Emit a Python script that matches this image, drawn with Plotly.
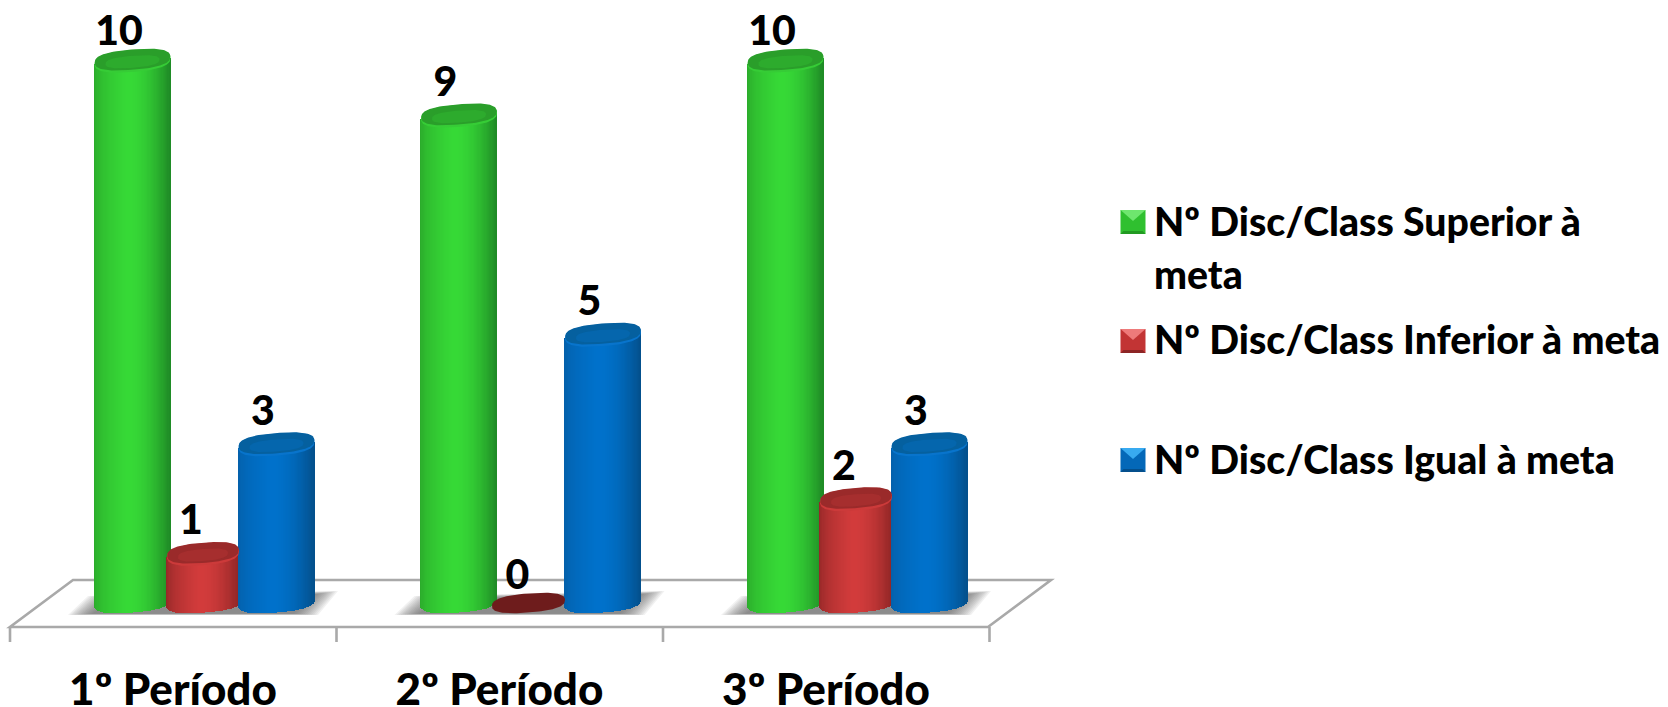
import numpy as np
import plotly.graph_objects as go

# ---- data ----
categories = ["1º Período", "2º Período", "3º Período"]
superior = [10, 9, 10]
inferior = [1, 0, 2]
igual = [3, 5, 3]
legend_lines = [["Nº Disc/Class Superior à", "meta"],
                ["Nº Disc/Class Inferior à meta"],
                ["Nº Disc/Class Igual à meta"]]

# ---- style / geometry ----
W, H = 1668, 707
PLOT_H = 660
X0, XU = 204.5, 326.5     # px of category 0, px per category
Y0, YU = 609.0, 54.8      # px of value 0, px per unit
BASE_PX = 602.0           # centre of the cylinders' bottom ellipse
A, B, TILT = 38.0, 10.5, -3.0 / 38.0
SUPER = 2.6               # superellipse exponent of the cylinder ends
FONT = "Lato"
series = [
    dict(vals=superior, off=-72 / XU, edge_l="#2aa52a", mid="#37da37", edge_r="#1f8a26", top_a=38, top_dx=0,
         top="#2a9e2a", top2="#2dab2d", rim="#36cc36", sw=("#2fc02f", "#6ee66e", "#229a22")),
    dict(vals=inferior, off=0.0, edge_l="#8c2525", mid="#d33c3c", edge_r="#862323", top_a=36, top_dx=-1.5,
         top="#9a2a2a", top2="#a62e2e", rim="#cc3a3a", sw=("#c23434", "#ee7a7a", "#8c2525")),
    dict(vals=igual, off=72 / XU, edge_l="#055ea6", mid="#0072cc", edge_r="#04508c", top_a=38, top_dx=0,
         top="#05609f", top2="#0566ad", rim="#0874cc", sw=("#0468b8", "#38aaf0", "#044f8c")),
]

def X(px):
    return (np.asarray(px, float) - X0) / XU

def Y(px):
    return (Y0 - np.asarray(px, float)) / YU

def hex2rgb(h):
    return np.array([int(h[i:i + 2], 16) for i in (1, 3, 5)], float)

def shade(s, u):
    """u in 0..1 across the cylinder"""
    l, m, r = hex2rgb(s["edge_l"]), hex2rgb(s["mid"]), hex2rgb(s["edge_r"])
    p = 0.44
    if u < p:
        t = (u / p) ** 0.5
        c = l + (m - l) * t
    else:
        t = ((u - p) / (1 - p)) ** 1.9
        c = m + (r - m) * t
    return "rgb(%d,%d,%d)" % tuple(c)

def ellipse(cx, cy, a, b):
    t = np.linspace(0, 2 * np.pi, 120)
    c, sn = np.cos(t), np.sin(t)
    ex = cx + a * np.sign(c) * np.abs(c) ** (2 / SUPER)
    ey = cy + b * np.sign(sn) * np.abs(sn) ** (2 / SUPER) + TILT * (ex - cx)
    return X(ex), Y(ey)

fig = go.Figure()

# bodies
for i, cat in enumerate(categories):
    for s in series:
        v = s["vals"][i]
        if v <= 0:
            continue
        cx = X0 + XU * (i + s["off"])
        n = 64
        dxs = (np.arange(n) + 0.5) / n * 2 - 1
        px = cx + A * dxs
        bottoms = BASE_PX + TILT * (px - cx) + B * (1 - np.abs(dxs) ** SUPER) ** (1 / SUPER)
        top_px = Y0 - YU * v + TILT * (px - cx)
        fig.add_trace(go.Bar(
            x=X(px), base=Y(bottoms), y=Y(top_px) - Y(bottoms),
            width=(2 * A / n) / XU * 1.4,
            marker=dict(color=[shade(s, (d + 1) / 2) for d in dxs], line=dict(width=0)),
            showlegend=False, hoverinfo="skip"))

# tops
for i, cat in enumerate(categories):
    for s in series:
        v = s["vals"][i]
        cx = X0 + XU * (i + s["off"]) + s["top_dx"]
        if v <= 0:
            ex, ey = ellipse(cx - 1, BASE_PX + 1, 36.5, 9.5)
            fig.add_trace(go.Scatter(x=ex, y=ey, fill="toself", mode="lines", fillcolor="#6e1c1c",
                                     line=dict(width=0), showlegend=False, hoverinfo="skip"))
            continue
        cy = Y0 - YU * v
        a0 = s["top_a"]
        for a, b, dy, col in [(a0, B + 0.5, 0, s["rim"]), (a0 - 0.3, B - 0.4, -1.4, s["top"]),
                              (a0 - 11, B - 4.5, 0.8, s["top2"])]:
            ex, ey = ellipse(cx, cy + dy, a, b)
            fig.add_trace(go.Scatter(x=ex, y=ey, fill="toself", mode="lines", fillcolor=col,
                                     line=dict(width=0), showlegend=False, hoverinfo="skip"))

# data labels (kept below the top of the chart, as in the original)
for s in series:
    fig.add_trace(go.Scatter(
        x=[i + s["off"] - 13.5 / XU for i in range(len(categories))],
        y=[min(v + 30 / YU, float(Y(35))) for v in s["vals"]],
        mode="text", text=[str(v) for v in s["vals"]], textposition="middle center",
        textfont=dict(family=FONT, size=41, color="black", weight=900),
        showlegend=False, hoverinfo="skip"))

# ---- decoration: floor, shadows, legend ----
def path(points):
    return "M " + " L ".join(f"{X(a):.5f},{Y(b):.5f}" for a, b in points) + " Z"

shapes = []
LINE = dict(color="#a9a9a9", width=2.6)
# floor
shapes.append(dict(type="path", path=path([(10, 627), (988, 627), (1051, 580), (73, 580)]),
                   line=LINE, fillcolor="white", layer="below", xref="x", yref="y"))
for k in range(4):
    xp = 10 + k * XU
    shapes.append(dict(type="line", x0=X(xp), x1=X(xp), y0=Y(627), y1=Y(642), line=LINE,
                       layer="below", xref="x", yref="y"))
# shadows
for i in range(3):
    ox = i * XU
    for g in range(24, -1, -2):
        shapes.append(dict(type="path", path=path([
            (68 + ox + g, 615 - g * 0.05), (88 + ox + g, 596 + g * 0.15),
            (338 + ox - g, 591 + g * 0.15), (318 + ox - g, 615 - g * 0.05)]),
            line=dict(width=0), fillcolor="rgba(90,90,90,0.085)", layer="below",
            xref="x", yref="y"))

# legend swatches + text
ROWS = [(210, 234, [220, 273]), (329, 353, [338]), (448, 472, [458])]
annotations = []
for s, (y0, y1, ys), lines in zip(series, ROWS, legend_lines):
    x0, x1 = 1120.5, 1145.5
    xm = (x0 + x1) / 2
    ym = (y0 + y1) / 2
    base, light, dark = s["sw"]
    shapes.append(dict(type="path", path=path([(x0, y0), (x1, y0), (x1, y1), (x0, y1)]),
                       line=dict(width=0), fillcolor=base, xref="x", yref="y"))
    shapes.append(dict(type="path", path=path([(x0, y0), (x1, y0), (xm, ym - 1)]),
                       line=dict(width=0), fillcolor=light, xref="x", yref="y"))
    shapes.append(dict(type="path", path=path([(x0, y1), (x1, y1), (x1 - 3, y1 - 3), (x0 + 3, y1 - 3)]),
                       line=dict(width=0), fillcolor=dark, xref="x", yref="y"))
    for line, yc in zip(lines, ys):
        annotations.append(dict(x=X(1152), y=Y(yc), xref="x", yref="y", text=line, showarrow=False,
                                xanchor="left", yanchor="middle",
                                font=dict(family=FONT, size=39.2, color="black", weight=900)))

fig.update_layout(
    width=W, height=H, autosize=False, barmode="overlay", bargap=0,
    margin=dict(l=0, r=0, t=0, b=H - PLOT_H, pad=0, autoexpand=False),
    plot_bgcolor="white", paper_bgcolor="white", showlegend=False,
    shapes=shapes, annotations=annotations,
    xaxis=dict(range=[float(X(0)), float(X(W))], showgrid=False, zeroline=False, showline=False, ticks="",
               automargin=False,
               tickmode="array", tickvals=[i - 31.5 / XU for i in range(3)], ticktext=categories,
               tickfont=dict(family=FONT, size=44, color="black", weight=900), ticklabelstandoff=0),
    yaxis=dict(range=[float(Y(PLOT_H)), float(Y(0))], showgrid=False, zeroline=False, showline=False,
               automargin=False, showticklabels=False, ticks=""),
)
fig.write_html("out.html", config=dict(displayModeBar=False),
               post_script="document.body.style.margin='0';document.body.style.overflow='hidden';")
